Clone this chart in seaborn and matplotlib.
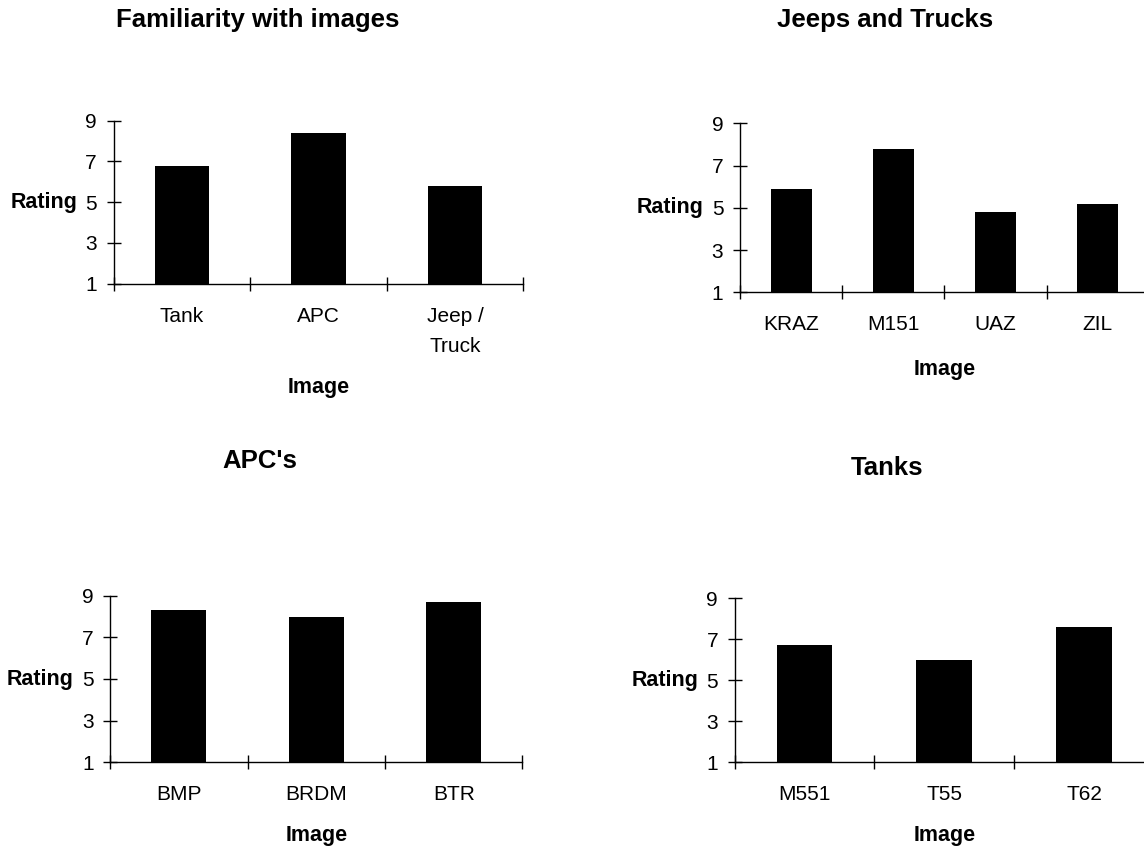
import numpy as np
import matplotlib
matplotlib.use("Agg")
import matplotlib.pyplot as plt
import seaborn as sns

# Data
fam_cats = ['Tank', 'APC', 'Jeep /\nTruck']
fam_vals = [6.8, 8.4, 5.8]

jeep_cats = ['KRAZ', 'M151', 'UAZ', 'ZIL']
jeep_vals = [5.9, 7.8, 4.8, 5.2]

apc_cats = ['BMP', 'BRDM', 'BTR']
apc_vals = [8.3, 8.0, 8.7]

tank_cats = ['M551', 'T55', 'T62']
tank_vals = [6.7, 6.0, 7.6]

titles = ['Familiarity with images', 'Jeeps and Trucks', "APC's", 'Tanks']
y_ticks = [1, 3, 5, 7, 9]

sns.set_style('ticks')
plt.rcParams['font.family'] = ['Liberation Sans', 'DejaVu Sans']
plt.rcParams['text.color'] = 'black'
plt.rcParams['axes.labelcolor'] = 'black'
plt.rcParams['xtick.color'] = 'black'
plt.rcParams['ytick.color'] = 'black'

fig = plt.figure(figsize=(11.44, 8.5), dpi=100)
W, H = 1144, 850

# axes placement in pixels: left, y of value 9, right, y of value 1
panels = [
    (fam_cats, fam_vals, (113.6, 120.7, 523.4, 283.7), 103.6),
    (jeep_cats, jeep_vals, (740.0, 123.3, 1148.8, 292.3), 77.0),
    (apc_cats, apc_vals, (110.2, 595.7, 522.4, 762.3), 73.4),
    (tank_cats, tank_vals, (734.7, 598.0, 1153.8, 762.3), 73.4),
]

for cats, vals, (l, t, r, b), xlab_off in panels:
    ax = fig.add_axes([l / W, 1 - b / H, (r - l) / W, (b - t) / H])
    sns.barplot(x=cats, y=vals, color='black', saturation=1, width=0.4,
                linewidth=0, ax=ax)
    n = len(cats)
    ax.set_xlim(-0.5, n - 0.5)
    ax.set_ylim(1, 9)
    ax.set_yticks(y_ticks)
    ax.set_xticks(np.arange(n + 1) - 0.5)
    ax.set_xticklabels([])
    ax.set_xticks(np.arange(n), labels=cats, minor=True)
    ax.tick_params(axis='x', which='major', direction='inout', length=10,
                   width=1, color='black')
    ax.tick_params(axis='x', which='minor', length=0, pad=16.5,
                   labelsize=15, labelcolor='black')
    ax.tick_params(axis='y', direction='inout', length=10, width=1,
                   pad=7, labelsize=15, color='black', labelcolor='black')
    for lab in ax.get_xticklabels(minor=True):
        lab.set_linespacing(1.75)
    sns.despine(ax=ax)
    for s in ['left', 'bottom']:
        ax.spines[s].set_linewidth(1.0)
        ax.spines[s].set_color('black')
    ax.grid(False)

    ax.set_xlabel('Image', fontsize=15.5, fontweight='bold', color='black')
    ax.xaxis.label.set_va('center')
    ax.xaxis.set_label_coords(0.5, -xlab_off / (b - t))
    ax.set_ylabel('Rating', fontsize=15.5, fontweight='bold', rotation=0,
                  ha='right', va='center', color='black')
    ax.yaxis.set_label_coords(-36.5 / (r - l), 0.5)

# panel titles
title_pos = [(257.5, 26.7), (885.5, 26.7), (260.0, 468.3), (887.0, 475.0)]
for txt, (x, y) in zip(titles, title_pos):
    fig.text(x / W, 1 - y / H, txt, ha='center', va='baseline',
             fontsize=18.5, fontweight='bold', color='black')

fig.savefig('out.png', dpi=100)
